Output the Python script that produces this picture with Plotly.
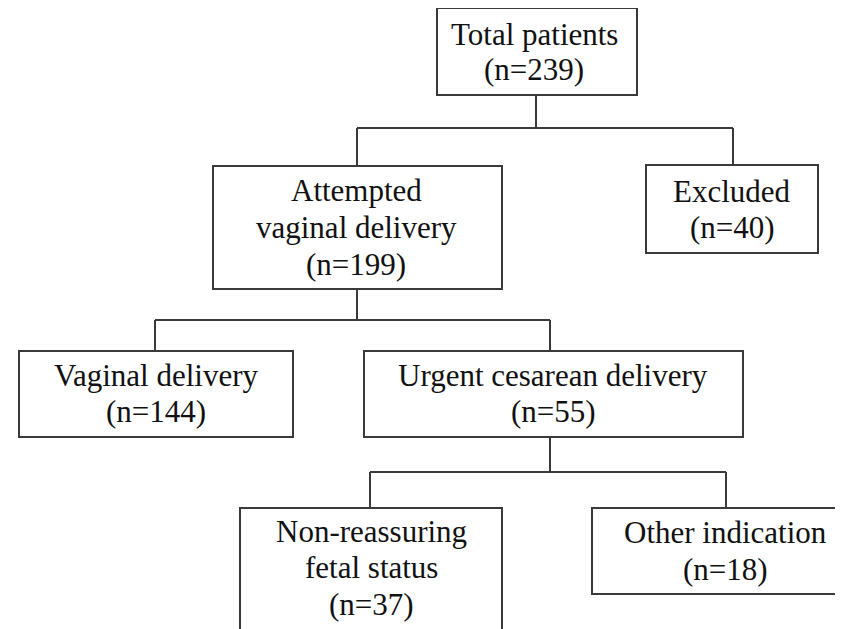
import plotly.graph_objects as go

# ---- data ----
node_titles = [
    ["Total patients"],
    ["Attempted", "vaginal delivery"],
    ["Excluded"],
    ["Vaginal delivery"],
    ["Urgent cesarean delivery"],
    ["Non-reassuring", "fetal status"],
    ["Other indication"],
]
node_counts = [239, 199, 40, 144, 55, 37, 18]
# parent index of each node (-1 = root)
node_parent = [-1, 0, 0, 1, 1, 4, 4]

# ---- layout (pixel geometry) ----
W, H = 843, 629
OFF = 8  # browser body margin
# box: left, top, right, bottom
boxes = [
    (437, 8, 637, 95),
    (213, 166, 502, 289),
    (646, 165, 818, 253),
    (19, 351, 293, 437),
    (364, 351, 743, 437),
    (240, 508, 502, 660),
    (592, 508, 860, 594),
]
# connector x where the line meets each box
conn_x = [536, 357, 733, 155, 550, 370, 726]
bus_y = {0: 128, 1: 320, 4: 472}
# baselines of text lines per box
baselines = [
    [45, 80],
    [201, 238, 275],
    [202, 238],
    [386, 422],
    [386, 422],
    [542, 578, 615],
    [543, 580],
]
text_cx = [534, 356, 732, 156, 553, 371, 725]

FS = 31
LINE = "#3a3a3a"
TXT = "#111111"

fig = go.Figure()
shapes = []
for (l, t, r, b) in boxes:
    shapes.append(dict(type="rect", x0=l, y0=t, x1=r, y1=b, xref="x", yref="y",
                       line=dict(color=LINE, width=2), fillcolor="white", layer="above"))

# connectors
for p, yb in bus_y.items():
    kids = [i for i, q in enumerate(node_parent) if q == p]
    shapes.append(dict(type="line", x0=conn_x[p], x1=conn_x[p], y0=boxes[p][3], y1=yb,
                       xref="x", yref="y", line=dict(color=LINE, width=2)))
    xs = [conn_x[k] for k in kids]
    shapes.append(dict(type="line", x0=min(xs), x1=max(xs), y0=yb, y1=yb,
                       xref="x", yref="y", line=dict(color=LINE, width=2)))
    for k in kids:
        shapes.append(dict(type="line", x0=conn_x[k], x1=conn_x[k], y0=yb, y1=boxes[k][1],
                           xref="x", yref="y", line=dict(color=LINE, width=2)))

annotations = []
for i, lines in enumerate(node_titles):
    all_lines = lines + [f"(n={node_counts[i]})"]
    for j, txt in enumerate(all_lines):
        annotations.append(dict(x=text_cx[i], y=baselines[i][j] - 10.5, xref="x", yref="y",
                                text=txt, showarrow=False, xanchor="center", yanchor="middle",
                                font=dict(family="Liberation Serif, Times New Roman, serif",
                                          size=FS, color=TXT)))

fig.update_layout(
    width=W - OFF, height=H - OFF,
    margin=dict(l=0, r=0, t=0, b=0),
    paper_bgcolor="white", plot_bgcolor="white",
    xaxis=dict(range=[OFF, W], visible=False, fixedrange=True),
    yaxis=dict(range=[H, OFF], visible=False, fixedrange=True),
    shapes=shapes, annotations=annotations, showlegend=False,
)
fig.write_html("out.html")
